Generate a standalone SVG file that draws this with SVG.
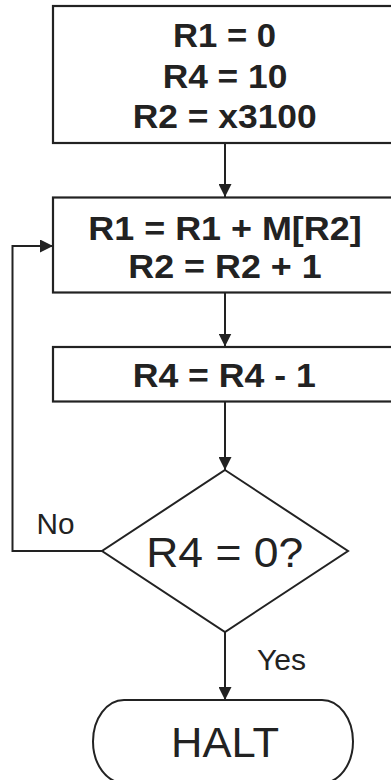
<svg xmlns="http://www.w3.org/2000/svg" width="391" height="780" viewBox="0 0 391 780">
  <defs>
    <marker id="arrow" markerUnits="userSpaceOnUse" markerWidth="14" markerHeight="13" refX="13" refY="6.5" orient="auto">
      <path d="M0,0 L13,6.5 L0,13 Z" fill="#222"/>
    </marker>
    <style>
      .box { fill: #fff; stroke: #222; stroke-width: 2.2; }
      .shape { fill: #fff; stroke: #222; stroke-width: 2; }
      .edge { fill: none; stroke: #222; stroke-width: 2; marker-end: url(#arrow); }
      .bold { font-family: "Liberation Sans", Arial, sans-serif; font-weight: bold; font-size: 33px; fill: #222; text-anchor: middle; }
      .reg { font-family: "Liberation Sans", Arial, sans-serif; fill: #222; }
    </style>
  </defs>
  <rect width="391" height="780" fill="#fff"/>

  <g id="connectors">
    <line class="edge" x1="225" y1="144" x2="225" y2="197"/>
    <line class="edge" x1="225" y1="293" x2="225" y2="346.5"/>
    <line class="edge" x1="225" y1="402" x2="225" y2="470"/>
    <line class="edge" x1="225" y1="632" x2="225" y2="700"/>
    <polyline class="edge" points="102,551 12.5,551 12.5,246 53,246"/>
    <text class="reg" x="36.5" y="534" font-size="29" textLength="38" lengthAdjust="spacingAndGlyphs">No</text>
    <text class="reg" x="257" y="670" font-size="29" textLength="49" lengthAdjust="spacingAndGlyphs">Yes</text>
  </g>

  <g id="init">
    <rect class="box" x="53" y="6" width="345" height="137"/>
    <text class="bold" x="224.5" y="47.3" textLength="103" lengthAdjust="spacingAndGlyphs">R1 = 0</text>
    <text class="bold" x="225" y="87.5" textLength="124.7" lengthAdjust="spacingAndGlyphs">R4 = 10</text>
    <text class="bold" x="224.7" y="127.8" textLength="184" lengthAdjust="spacingAndGlyphs">R2 = x3100</text>
  </g>

  <g id="accumulate">
    <rect class="box" x="53" y="197.5" width="345" height="95"/>
    <text class="bold" x="225" y="239.5" textLength="273.3" lengthAdjust="spacingAndGlyphs">R1 = R1 + M[R2]</text>
    <text class="bold" x="225" y="277.8" textLength="193.3" lengthAdjust="spacingAndGlyphs">R2 = R2 + 1</text>
  </g>

  <g id="decrement">
    <rect class="box" x="53" y="347" width="345" height="54.5"/>
    <text class="bold" x="224.3" y="386.8" textLength="183.3" lengthAdjust="spacingAndGlyphs">R4 = R4 - 1</text>
  </g>

  <g id="decision">
    <polygon class="shape" points="225,470 348,551 225,632 102,551"/>
    <text class="reg" x="224.7" y="567.3" font-size="42" text-anchor="middle" textLength="157" lengthAdjust="spacingAndGlyphs">R4 = 0?</text>
  </g>

  <g id="halt">
    <path class="shape" d="M124,700 L322,700 A31,41.5 0 0 1 322,783 L124,783 A31,41.5 0 0 1 124,700 Z"/>
    <text class="reg" x="225" y="756.7" font-size="42" text-anchor="middle" textLength="108" lengthAdjust="spacingAndGlyphs">HALT</text>
  </g>
</svg>
